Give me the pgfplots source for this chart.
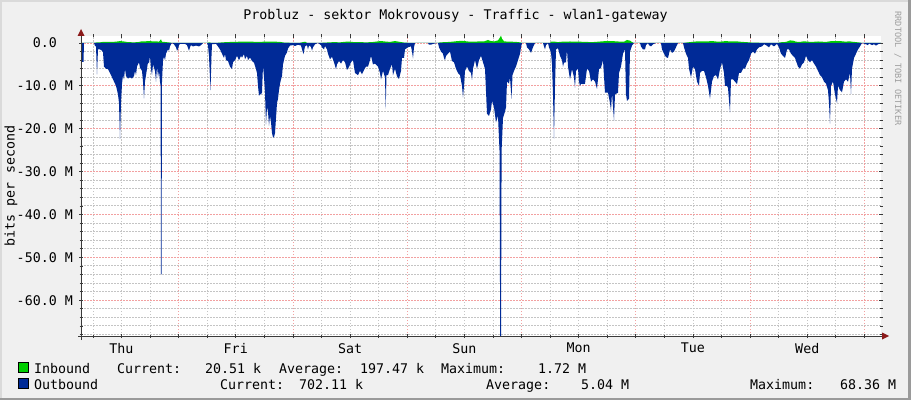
\documentclass[border=0pt]{standalone}
\usepackage{pgfplots}
\usepackage{pgfplotstable}
\pgfplotsset{compat=1.18}
\usepackage{fontspec}
\setmainfont{DejaVu Sans Mono}
\usetikzlibrary{arrows.meta}
\definecolor{inb}{HTML}{00CF00}
\definecolor{outb}{HTML}{002A97}
\definecolor{bg}{HTML}{F0F0F0}
\definecolor{shadeA}{HTML}{DADADA}
\definecolor{shadeB}{HTML}{9A9A9A}
\definecolor{mgrid}{HTML}{F2A0A0}
\definecolor{mingrid}{HTML}{C4C4C4}
\definecolor{axiscol}{HTML}{3A3A3A}
\definecolor{arrowcol}{HTML}{8B1A1A}

\pgfplotstableread{
x y
81 0
81.5 -0.3
82 -4.4
83.5 -4.4
84 0
94 0
95 -0.7
96 -0.8
97 -7.3
98 -1.5
100 -1.5
102 -1.8
103 -2.2
104 -5.5
106 -6.0
108 -6.1
110 -7.0
112 -8.0
114 -9.0
116 -10.0
117 -11.0
118 -12.0
119 -14
120 -22.4
121 -14
122 -9.5
123 -7.5
124 -8.5
125 -6.0
126 -7.7
128 -8.3
130 -8.0
132 -8.3
134 -7.7
135 -6.5
136 -7.5
137 -5.5
139 -4.5
140 -5.8
142 -6.5
143 -9.0
144 -12.9
145 -9.0
146 -7.5
147 -6.0
148 -4.5
149 -4.8
150 -3.0
151 -6.0
152 -7.5
153 -5.0
155 -6.5
156 -9.0
157 -5.5
158 -8.0
159 -6.5
160 -9.0
160.6 -10
161 -54.0
161.5 -54.0
162 -9.0
163 -4.0
164 -3.2
165 -4.0
166 -2.5
168 -1.5
169 -1.8
170 -0.8
171 -0.3
172 0
174 -0.3
176 -1.0
177 -1.8
178 -1.5
179 -0.5
180 -0.2
185 -0.2
187 -0.5
189 -1.8
190 -1.0
191 -0.5
193 -0.8
196 -0.6
199 -0.8
201 -0.5
203 0
207 0
208 -0.6
209 -3.0
210.5 -11.0
211.5 -3.0
212 -0.3
216 -0.2
218 -0.8
220 -1.5
222 -2.5
224 -3.5
225 -2.5
226 -4.0
228 -4.2
230 -5.5
232 -6.1
233 -4.5
235 -4.0
237 -3.0
239 -4.0
241 -3.0
242 -3.4
244 -2.6
245 -3.8
247 -3.0
248 -4.0
250 -3.4
252 -4.2
254 -4.6
256 -6.1
257 -7.0
258 -10.0
259 -12.3
260 -12.0
261 -12.0
262 -11.5
263 -5.3
264 -8.0
265 -11.5
266 -19.0
267 -15.0
268 -16.0
269 -19.3
270 -17.0
271 -18.5
272 -21.0
273 -22.0
274 -22.0
275 -21.0
276 -17.5
277 -14.0
278 -13.0
279 -11.0
280 -9.5
281 -8.5
282 -7.7
283 -5.0
285 -3.0
287 -2.2
288 -1.3
290 -0.6
293 -0.5
295 -0.7
298 -0.4
301 -0.6
302 -1.5
303.5 -2.6
305 -0.8
307 -0.5
308 -1.5
309 -0.6
311 -0.9
312 -1.8
313 -1.0
315 -0.3
318 0
321 -0.5
322 -1.0
324 -1.5
325 -0.7
327 -1.5
328 -2.5
330 -3.8
332 -3.2
334 -4.5
336 -6.1
337 -5.0
339 -4.2
341 -4.8
343 -4.0
345 -4.5
347 -6.3
349 -5.6
351 -4.5
353 -4.0
355 -7.0
358 -7.5
360 -6.5
362 -7.3
364 -6.3
366 -5.5
368 -5.5
370 -4.0
371 -3.0
373 -5.0
375 -4.8
378 -5.5
380 -7.0
381 -8.5
383 -6.5
385 -8.0
385.7 -15.3
386.5 -7.5
388 -7.5
390 -6.0
392 -5.0
393 -7.5
395 -6.0
397 -7.8
399 -8.4
401 -6.5
402 -3.5
404 -3.5
405 -1.5
408 -1.0
411 -0.8
412 -2.0
413 -3.6
414 -1.0
415 0
428 0
429 -0.4
431 -0.4
433 -0.2
438 0
439 -1.0
441 -2.0
443 -2.5
444 -3.5
445 -4.0
446 -3.0
448 -2.5
450 -2.0
452 -4.2
454 -4.5
456 -6.0
458 -7.0
460 -7.5
462 -10.0
463 -12.7
464 -10.0
465 -6.5
467 -5.5
469 -6.5
471 -7.0
472 -8.6
473 -6.0
475 -4.0
477 -6.0
479 -4.0
481 -3.0
483 -4.5
485 -6.0
487 -16.5
489 -17.0
491 -15.5
492 -13.5
494 -15.0
496 -18.5
498 -17.0
499.5 -25.0
500.2 -68.36
501 -68.36
501.6 -25.0
503 -17.5
505 -16.0
506 -15.0
507 -9.0
509 -9.5
510 -8.0
511.5 -13.0
512.5 -7.5
514 -6.5
516 -5.5
518 -4.0
520 -2.5
521 -1.0
522 0
526 0
527 -1.0
529 -1.5
531 -2.3
533 -1.0
535 0
543 0
544 -0.8
545 -1.5
546 -0.5
548 0
549 -1.0
551 -2.2
552 -5.0
553 -12.0
554 -22.3
555 -10.0
556 -1.5
558 -1.2
560 -3.0
562 -4.0
563 -5.5
564 -4.6
566 -4.5
567 -1.5
568 -5.5
570 -8.5
572 -6.1
574 -8.0
575 -10.4
576 -6.5
578 -6.0
579 -9.0
580 -10.0
581 -9.5
583 -9.6
585 -9.5
587 -6.0
589 -6.5
591 -9.0
593 -8.5
595 -9.0
597 -10.7
599 -6.1
601 -5.8
603 -4.0
605 -11.6
608 -11.6
610 -14.0
611 -15.8
612 -11.6
614 -18.1
615 -12.0
618 -11.6
619 -7.0
621 -5.5
623 -2.5
625 -1.5
626 -12.0
627 -13.5
629 -13.0
630 -2.0
632 -0.6
634 0
640 0
641 -0.8
643 -1.5
645 -1.5
646 -0.5
648 0
649 -0.5
651 -0.8
653 -0.3
656 0
661 0
662 -1.5
664 -2.5
666 -3.3
668 -3.5
670 -1.5
672 -2.3
674 -2.0
676 -1.0
678 0
683 0
684 -1.0
686 -2.5
688 -3.5
689 -6.0
691 -8.0
693 -5.5
695 -6.1
697 -9.0
699 -10.0
700 -7.0
702 -6.5
704 -6.5
706 -8.0
708 -10.0
710 -13.0
712 -9.0
714 -7.7
716 -7.5
718 -8.5
720 -6.1
722 -4.5
724 -7.0
725 -10.0
727 -10.0
728 -10.5
730 -16.2
731 -8.5
733 -8.5
735 -9.0
737 -9.6
739 -7.0
741 -7.0
743 -6.0
745 -6.0
747 -4.8
749 -4.0
751 -2.5
753 -2.0
755 -2.5
757 -1.5
759 -1.0
762 -0.8
764 -0.3
766 -0.5
769 -1.0
771 -0.3
774 -0.8
777 -0.2
779 -1.0
781 -2.5
783 -3.0
785 -3.5
787 -1.5
789 -1.5
791 -2.5
793 -3.0
795 -3.5
798 -5.5
800 -6.0
802 -5.0
804 -4.5
806 -3.0
808 -4.0
810 -4.5
812 -4.0
814 -4.8
816 -5.5
818 -6.5
820 -7.5
822 -8.0
824 -9.0
826 -9.5
828 -11.0
829 -14.0
830 -18.8
831 -10.0
833 -9.0
835 -12.0
837 -14.0
838 -10.0
840 -11.0
842 -11.5
844 -9.0
846 -8.5
848 -9.0
850 -7.0
851 -11.9
852 -6.0
854 -3.5
856 -2.5
858 -1.5
860 -0.8
862 0
866 -0.3
868 -0.5
869 -0.1
872 -0.5
874 -0.3
876 -0.6
878 -0.3
881 0
}\outbound

\pgfplotstableread{
x y
81 0
94 0
95 0.1
100 0.15
103 0.25
110 0.25
116 0.3
120 0.45
124 0.35
128 0.2
134 0.15
138 0.2
141 0.35
146 0.4
150 0.45
153 0.35
156 0.4
159 0.3
161 0.85
162 0.3
166 0.2
170 0.1
172 0
207 0
209 0.15
212 0
216 0
220 0.1
226 0.2
232 0.25
240 0.3
246 0.3
252 0.3
258 0.25
264 0.3
270 0.3
276 0.3
280 0.25
284 0.1
290 0.05
300 0.05
305 0.3
307 0.05
320 0.02
326 0.1
334 0.2
340 0.15
346 0.3
350 0.3
354 0.2
360 0.2
366 0.15
372 0.2
377 0.35
381 0.45
385 0.35
390 0.25
395 0.45
400 0.25
404 0.1
408 0.05
415 0
438 0
440 0.15
446 0.2
452 0.3
458 0.45
462 0.5
466 0.4
470 0.3
475 0.3
480 0.4
484 0.35
488 0.7
490 0.5
494 0.35
498 0.6
500 1.3
501 1.72
502 1.0
504 0.4
508 0.3
512 0.3
516 0.25
520 0.15
522 0
550 0
551 0.3
555 0.3
558 0.2
562 0.3
566 0.3
570 0.35
574 0.3
580 0.3
586 0.25
592 0.2
598 0.3
606 0.45
612 0.45
618 0.35
624 0.3
627 0.7
630 0.55
632 0.2
634 0
683 0
686 0.1
690 0.2
696 0.35
700 0.4
706 0.35
712 0.45
718 0.3
722 0.35
726 0.45
730 0.35
736 0.4
740 0.3
746 0.2
752 0.1
760 0.05
770 0
778 0
780 0.15
786 0.25
790 0.6
793 0.55
796 0.3
800 0.25
804 0.4
808 0.3
812 0.25
818 0.35
822 0.3
826 0.25
830 0.4
834 0.45
838 0.45
842 0.4
846 0.3
849 0.4
852 0.3
856 0.2
860 0.1
862 0
881 0
}\inbound

\begin{document}
\begin{tikzpicture}[x=1pt,y=1pt]
\fontsize{13.3}{16}\selectfont
\useasboundingbox (0,0) rectangle (911,400);
\fill[bg] (0,0) rectangle (911,400);
\fill[shadeA] (0,398) rectangle (911,400);
\fill[shadeA] (0,0) rectangle (2,400);
\fill[shadeB] (908,0) rectangle (911,400);
\fill[shadeB] (0,0) rectangle (911,2);

\begin{axis}[
  at={(81pt,64pt)}, anchor=south west,
  scale only axis, width=800pt, height=300pt,
  xmin=81, xmax=881, ymin=-68.36, ymax=1.63,
  axis background/.style={fill=white},
  axis line style={draw=none},
  font=\fontsize{13.3}{16}\selectfont,
  xtick={121.45,235.75,350.05,464.35,578.65,692.95,807.25},
  xticklabels={Thu,Fri,Sat,Sun,Mon,Tue,Wed},
  minor xtick={92.9,121.45,150.0,207.2,235.75,264.3,321.5,350.05,378.6,435.8,464.35,492.9,550.1,578.65,607.2,664.4,692.95,721.5,778.7,807.25,835.8},
  extra x ticks={178.6,292.9,407.2,521.5,635.8,750.1,864.4},
  extra x tick labels={},
  extra x tick style={grid=major},
  ytick={0,-10,-20,-30,-40,-50,-60},
  yticklabels={0.0\hphantom{\ M},-10.0 M,-20.0 M,-30.0 M,-40.0 M,-50.0 M,-60.0 M},
  minor ytick={-68,-66,...,-2},
  xmajorgrids=false, xminorgrids=true,
  ymajorgrids=true, yminorgrids=true,
  major grid style={draw=mgrid, line width=0.8pt, dash pattern=on 1.5pt off 1.5pt},
  minor grid style={draw=mingrid, line width=0.8pt, dash pattern=on 1.5pt off 1.5pt},
  tick align=center,
  major tick length=4pt, minor tick length=3pt,
  tick style={draw=axiscol, line width=0.7pt},
  yticklabel style={inner sep=0pt, xshift=-6pt},
  xticklabel style={inner sep=0pt, yshift=-5pt},
]
\addplot[fill=inb, draw=none] table[x=x,y=y] {\inbound} \closedcycle;
\addplot[fill=outb, draw=none] table[x=x,y=y] {\outbound} \closedcycle;
\end{axis}

\draw[axiscol, line width=1pt] (78,64) -- (883,64);
\fill[arrowcol] (882,60.5) -- (889,64) -- (882,67.5) -- cycle;
\draw[axiscol, line width=1pt] (81,60) -- (81,365);
\fill[arrowcol] (77.5,364) -- (81,371) -- (84.5,364) -- cycle;

\node[anchor=base] at (455.5,380) {Probluz - sektor Mokrovousy - Traffic - wlan1-gateway};
\node[rotate=90] at (11,214) {bits per second};
\node[rotate=-90, anchor=west, text=gray!75, font=\fontsize{8.6}{10}\selectfont] at (898,393) {RRDTOOL / TOBI OETIKER};

\filldraw[fill=inb, draw=black, line width=0.6pt] (18.5,27.5) rectangle (28.5,37.5);
\filldraw[fill=outb, draw=black, line width=0.6pt] (18.5,11.5) rectangle (28.5,21.5);
\begin{scope}[every node/.style={anchor=base west, inner sep=0pt}]
\node at (34,27) {Inbound};
\node at (117,27) {Current:};
\node at (205,27) {20.51 k};
\node at (279,27) {Average:};
\node at (360,27) {197.47 k};
\node at (441,27) {Maximum:};
\node at (538,27) {1.72 M};
\node at (34,11) {Outbound};
\node at (220,11) {Current:};
\node at (299,11) {702.11 k};
\node at (486,11) {Average:};
\node at (581,11) {5.04 M};
\node at (750,11) {Maximum:};
\node at (840,11) {68.36 M};
\end{scope}
\end{tikzpicture}
\end{document}
